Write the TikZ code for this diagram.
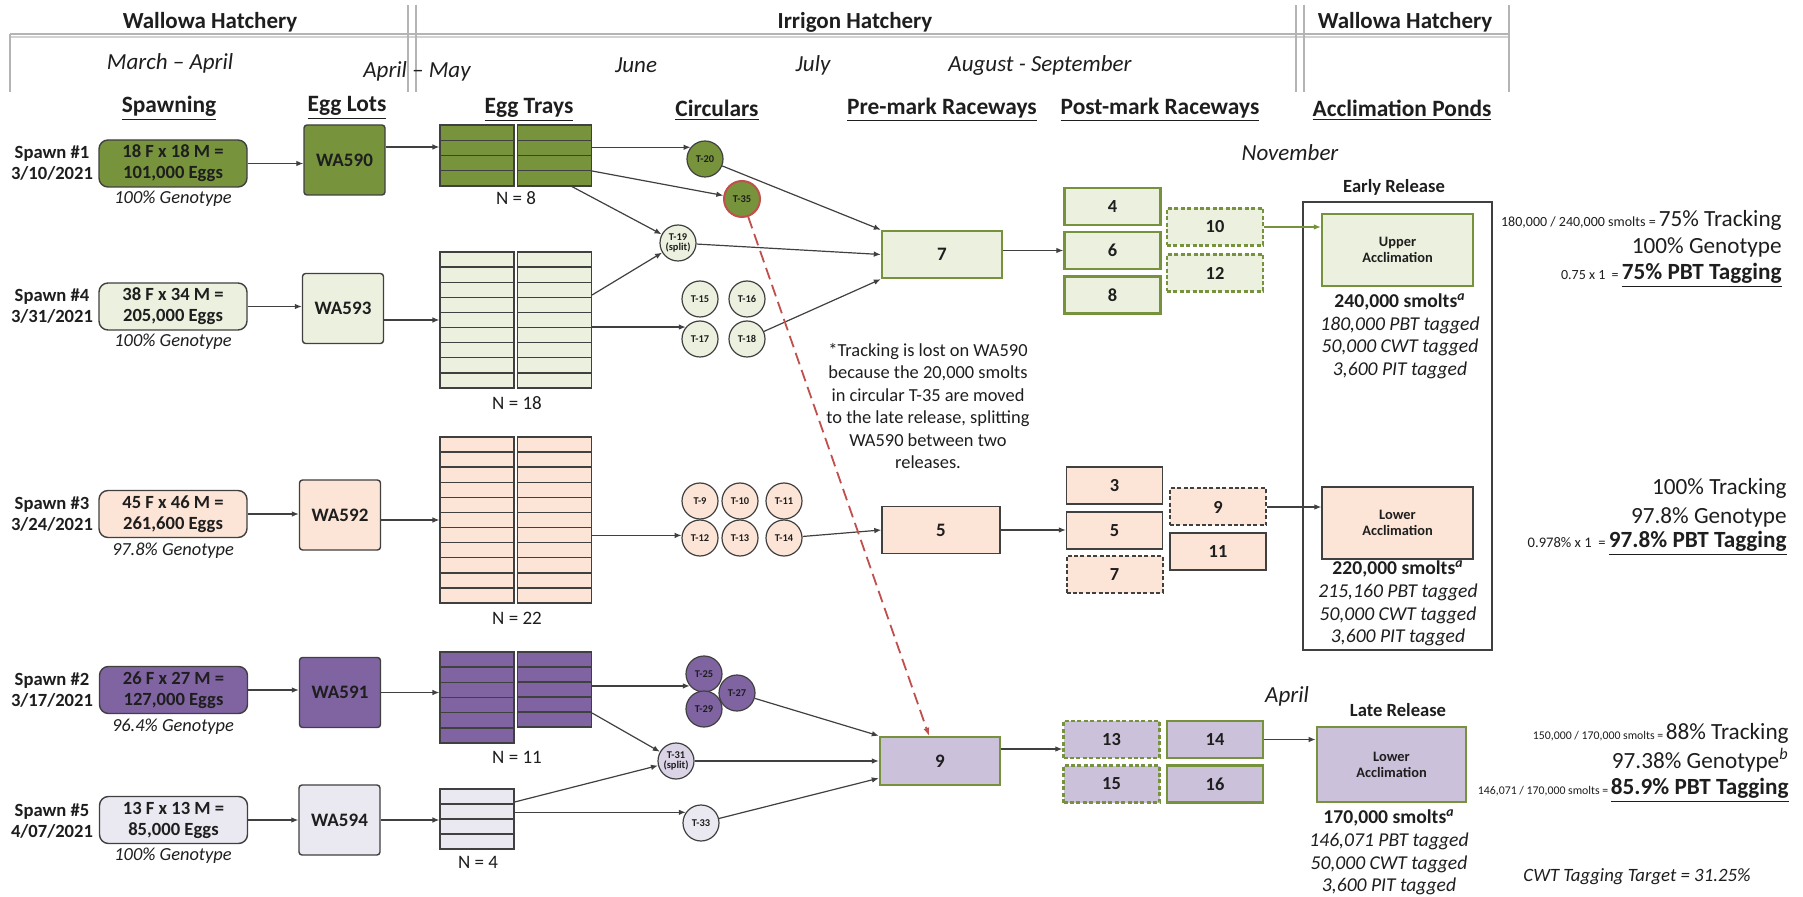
\documentclass[tikz,border=0pt]{standalone}
\usepackage{fontspec}
\setmainfont{Carlito}
\usetikzlibrary{arrows.meta,calc}
\definecolor{dkgreen}{HTML}{77933C}
\definecolor{ltgreen}{HTML}{EBF1DE}
\definecolor{peach}{HTML}{FCE4D6}
\definecolor{purp}{HTML}{8064A2}
\definecolor{lav}{HTML}{CCC1DA}
\definecolor{palelav}{HTML}{EAE8F0}
\definecolor{splitlav}{HTML}{DAD4E6}
\definecolor{olive}{HTML}{76923C}
\definecolor{edge}{HTML}{404040}
\definecolor{redline}{HTML}{C0504D}
\definecolor{hdrline}{HTML}{B4B4B4}
\definecolor{txt}{HTML}{1E1E1E}
\newcommand{\fsz}[2]{\fontsize{#1pt}{#2pt}\selectfont}
\tikzset{
  every node/.style={text=txt},
  arr/.style={draw=edge, line width=0.6pt, -{Latex[length=3.5pt,width=2.8pt]}},
  hdr/.style={font=\fsz{11.5}{13}\bfseries, inner sep=0pt},
  month/.style={font=\fsz{11.5}{13}\itshape, inner sep=0pt},
  colhdr/.style={font=\fsz{11.7}{13}\bfseries, inner sep=0pt},
  slabel/.style={font=\fsz{9.3}{10.5}\bfseries, align=center, inner sep=0pt},
  spawnbox/.style={draw=edge, line width=0.7pt, rounded corners=4.5pt, minimum width=74pt, minimum height=23.5pt, align=center, font=\fsz{9.3}{10.5}\bfseries, inner sep=0pt},
  geno/.style={font=\fsz{9.2}{10.5}\itshape, inner sep=0pt},
  lotbox/.style={draw=edge, line width=0.7pt, rounded corners=1.5pt, minimum width=40.5pt, minimum height=35pt, font=\fsz{9.5}{11}\bfseries, inner sep=0pt},
  traycol/.style n args={3}{draw=edge, line width=0.6pt, fill=#1, minimum width=37pt, minimum height=#2, inner sep=0pt,
    path picture={\foreach \k in {1,...,#3}{\draw[edge, line width=0.7pt] ($(path picture bounding box.north west)!{\k/(#3+1)}!(path picture bounding box.south west)$) -- ($(path picture bounding box.north east)!{\k/(#3+1)}!(path picture bounding box.south east)$);}}},
  nlab/.style={font=\fsz{9.5}{11}, inner sep=0pt},
  circ/.style={circle, draw=edge, line width=0.6pt, minimum size=18pt, inner sep=0pt, font=\fsz{5.2}{5.4}\bfseries, align=center},
  pre/.style={line width=1.2pt, minimum width=60pt, minimum height=23.5pt, font=\fsz{9.5}{11}\bfseries, inner sep=0pt},
  post/.style={minimum width=48pt, minimum height=18.5pt, font=\fsz{9.2}{11}\bfseries, inner sep=0pt},
  greenpost/.style={post, draw=olive, line width=1.2pt, fill=ltgreen},
  peachpost/.style={post, draw=edge, line width=0.7pt, fill=peach},
  lavpost/.style={post, draw=olive, line width=1.2pt, fill=lav},
  dashpost/.style={dash pattern=on 2pt off 1.2pt},
  accl/.style={minimum width=75.5pt, minimum height=36pt, align=center, font=\fsz{7.2}{8}\bfseries, inner sep=0pt},
  smolt/.style={font=\fsz{9.8}{11.3}, align=center, inner sep=0pt},
  rt/.style={anchor=east, inner sep=0pt, font=\fsz{11.6}{13}},
  note/.style={font=\fsz{9.2}{11.2}, align=center, inner sep=0pt}
}
\begin{document}
\begin{tikzpicture}[x=0.5pt, y=-0.5pt]
\fill[white] (0,0) rectangle (1803,897);
\useasboundingbox (0,0) rectangle (1803,897);

% header frame
\draw[hdrline, line width=0.9pt] (10,34) -- (1509,34);
\draw[hdrline!60, line width=0.9pt] (10,37) -- (1509,37);
\foreach \x in {408,416,1296,1304} \draw[hdrline, line width=0.9pt] (\x,5) -- (\x,92);
\draw[hdrline, line width=0.9pt] (10,34) -- (10,92);
\draw[hdrline, line width=0.9pt] (1509,5) -- (1509,92);

\node[hdr] (hW1) at (210,22) {Wallowa Hatchery};
\node[hdr] (hI) at (855,22) {Irrigon Hatchery};
\node[hdr] (hW2) at (1405,22) {Wallowa Hatchery};

\node[month] (m1) at (170,63) {March – April};
\node[month] (m2) at (417,71) {April – May};
\node[month] (m3) at (636,65) {June};
\node[month] (m4) at (813,65) {July};
\node[month] (m5) at (1040,65) {August - September};

% column headers
\node[colhdr] (c1) at (169,108) {\underline{Spawning}};
\node[colhdr] (c2) at (347,108) {\underline{Egg Lots}};
\node[colhdr] (c3) at (529,110) {\underline{Egg Trays}};
\node[colhdr] (c4) at (717,110) {\underline{Circulars}};
\node[colhdr] (c5) at (942,110) {\underline{Pre-mark Raceways}};
\node[colhdr] (c6) at (1160,110) {\underline{Post-mark Raceways}};
\node[colhdr] (c7) at (1402,110) {\underline{Acclimation Ponds}};

% spawning
\node[slabel] (l1) at (52,163) {Spawn \#1\\3/10/2021};
\node[slabel] (l4) at (52,306) {Spawn \#4\\3/31/2021};
\node[slabel] (l3) at (52,514) {Spawn \#3\\3/24/2021};
\node[slabel] (l2) at (52,690) {Spawn \#2\\3/17/2021};
\node[slabel] (l5) at (52,821) {Spawn \#5\\4/07/2021};

\node[spawnbox, fill=dkgreen] (s1) at (173,163.5) {18 F x 18 M =\\101,000 Eggs};
\node[spawnbox, fill=ltgreen] (s4) at (173,306.5) {38 F x 34 M =\\205,000 Eggs};
\node[spawnbox, fill=peach] (s3) at (173,514) {45 F x 46 M =\\261,600 Eggs};
\node[spawnbox, fill=purp] (s2) at (173.5,690) {26 F x 27 M =\\127,000 Eggs};
\node[spawnbox, fill=palelav] (s5) at (173.5,820) {13 F x 13 M =\\85,000 Eggs};

\node[geno] (g1) at (173,199) {100\% Genotype};
\node[geno] (g4) at (173,342) {100\% Genotype};
\node[geno] (g3) at (173,551) {97.8\% Genotype};
\node[geno] (g2) at (173,727) {96.4\% Genotype};
\node[geno] (g5) at (173,856) {100\% Genotype};

% egg lots
\node[lotbox, fill=dkgreen] (wa590) at (344.5,160) {WA590};
\node[lotbox, fill=ltgreen] (wa593) at (343,308.5) {WA593};
\node[lotbox, fill=peach] (wa592) at (340,515) {WA592};
\node[lotbox, fill=purp] (wa591) at (340,692.5) {WA591};
\node[lotbox, fill=palelav] (wa594) at (339.5,820) {WA594};

\draw[arr] (s1.east) -- (s1.east -| wa590.west);
\draw[arr] (s4.east) -- (s4.east -| wa593.west);
\draw[arr] (s3.east) -- (s3.east -| wa592.west);
\draw[arr] (s2.east) -- (s2.east -| wa591.west);
\draw[arr] (s5.east) -- (s5.east -| wa594.west);

% egg trays
\node[traycol={dkgreen}{30.5pt}{3}] (t1l) at (477,155.5) {};
\node[traycol={dkgreen}{30.5pt}{3}] (t1r) at (554.5,155.5) {};
\node[traycol={ltgreen}{68pt}{8}] (t2l) at (477,320) {};
\node[traycol={ltgreen}{68pt}{8}] (t2r) at (554.5,320) {};
\node[traycol={peach}{83pt}{10}] (t3l) at (477,520) {};
\node[traycol={peach}{83pt}{10}] (t3r) at (554.5,520) {};
\node[traycol={purp}{45.5pt}{5}] (t4l) at (477,697.5) {};
\node[traycol={purp}{37.5pt}{4}] (t4r) at (554.5,689.5) {};
\node[traycol={palelav}{30pt}{3}] (t5) at (477,819) {};

\node[nlab] (n1) at (516,198) {N = 8};
\node[nlab] (n2) at (517,403) {N = 18};
\node[nlab] (n3) at (517,618) {N = 22};
\node[nlab] (n4) at (517,757) {N = 11};
\node[nlab] (n5) at (478,862) {N = 4};

\coordinate (e1) at ($(wa590.east)+(0,-13)$);
\draw[arr] (e1) -- (e1 -| t1l.west);
\draw[arr] (wa593.east |- t2l.west) -- (t2l.west);
\draw[arr] (wa592.east |- t3l.west) -- (t3l.west);
\draw[arr] (wa591.east) -- (wa591.east -| t4l.west);
\draw[arr] (wa594.east) -- (wa594.east -| t5.west);

% circulars
\node[circ, fill=dkgreen] (T20) at (705,159) {T-20};
\node[circ, fill=dkgreen, draw=redline, line width=1pt] (T35) at (742,199) {T-35};
\node[circ, fill=ltgreen] (T19) at (678,243) {T-19\\(split)};
\node[circ, fill=ltgreen] (T15) at (700,299) {T-15};
\node[circ, fill=ltgreen] (T16) at (747,299) {T-16};
\node[circ, fill=ltgreen] (T17) at (700,339) {T-17};
\node[circ, fill=ltgreen] (T18) at (747,339) {T-18};

\node[circ, fill=peach] (T9) at (700,501) {T-9};
\node[circ, fill=peach] (T10) at (740,501) {T-10};
\node[circ, fill=peach] (T11) at (784,501) {T-11};
\node[circ, fill=peach] (T12) at (700,538) {T-12};
\node[circ, fill=peach] (T13) at (740,538) {T-13};
\node[circ, fill=peach] (T14) at (784,538) {T-14};

\node[circ, fill=purp] (T25) at (704,674) {T-25};
\node[circ, fill=purp] (T27) at (737,693) {T-27};
\node[circ, fill=purp] (T29) at (704,709) {T-29};
\node[circ, fill=splitlav] (T31) at (676,761) {T-31\\(split)};
\node[circ, fill=palelav] (T33) at (701,823) {T-33};

% tray -> circular
\draw[arr] (t1r.east |- T20.141) -- (T20.141);
\draw[arr] ($(t1r.east)+(0,15.5)$) -- (T35);
\draw[arr] ($(t1r.south)+(17.5,0)$) -- (T19);
\draw[arr] ($(t2r.east)+(0,-25)$) -- (T19);
\draw[arr] (t2r.east |- T17.140) -- (T17.140);
\draw[arr] (t3r.east |- T12.172) -- (T12.172);
\draw[arr] (t4r.east |- T25.220) -- (T25.220);
\draw[arr] ($(t4r.east)+(0,23.5)$) -- (T31);
\draw[arr] ($(t5.east)+(0,-17)$) -- (T31);
\draw[arr] (t5.east |- T33.145) -- (T33.145);

% pre-mark raceways
\node[pre, draw=olive, fill=ltgreen] (p7) at (942,254.5) {7};
\node[pre, draw=edge, line width=0.7pt, fill=peach, minimum width=59pt] (p5) at (941,530) {5};
\node[pre, draw=olive, fill=lav, minimum height=24pt] (p9) at (940,761) {9};

\draw[arr] (T20) -- (p7.north west);
\draw[arr] (T19) -- (p7.west);
\draw[arr] (T18) -- (p7.south west);
\draw[arr] (T14) -- (p5.west);
\draw[arr] (T27) -- (p9.north west);
\draw[arr] (T31) -- (p9.west);
\draw[arr] (T33) -- ($(p9.south west)+(0,-8)$);

% note
\node[note] (note) at (928,406) {*Tracking is lost on WA590\\because the 20,000 smolts\\in circular T-35 are moved\\to the late release, splitting\\WA590 between two\\releases.};

% post-mark raceways
\node[greenpost] (q4) at (1112.5,206.5) {4};
\node[greenpost] (q6) at (1112.5,250.5) {6};
\node[greenpost] (q8) at (1112.5,295) {8};
\node[greenpost, dashpost] (q10) at (1215,227) {10};
\node[greenpost, dashpost] (q12) at (1215,273) {12};

\node[peachpost] (q3) at (1114.5,485.5) {3};
\node[peachpost] (q5) at (1114.5,530.5) {5};
\node[peachpost, dashpost, line width=1pt] (q7) at (1114.5,574.5) {7};
\node[peachpost, dashpost, line width=1pt] (q9) at (1218,507) {9};
\node[peachpost] (q11) at (1218,551.5) {11};

\node[lavpost, dashpost] (q13) at (1111.5,739.5) {13};
\node[lavpost] (q14) at (1215,739.5) {14};
\node[lavpost, dashpost] (q15) at (1111.5,784) {15};
\node[lavpost] (q16) at (1215,784) {16};

\draw[arr] (q6.west -| p7.east) -- (q6.west);
\draw[arr] (p5.east) -- (p5.east -| q5.west);
\coordinate (c9) at ($(p9.east)+(0,-12)$);
\draw[arr] (c9) -- (c9 -| q13.west);

% red dashed transfer
\draw[redline, line width=0.9pt, dash pattern=on 6pt off 3pt, -{Latex[length=4pt,width=3.2pt]}] (T35) -- ($(p9.north)+(-11,0)$);

% timing labels
\node[month] (nov) at (1290,153) {November};
\node[month] (apr) at (1287,696) {April};

% acclimation
\node[draw=edge, line width=0.6pt, minimum width=94.5pt, minimum height=224pt, inner sep=0pt] (early) at (1397.5,426) {};
\node[font=\fsz{9.3}{11}\bfseries, inner sep=0pt] (erl) at (1394,187) {Early Release};
\node[font=\fsz{9.3}{11}\bfseries, inner sep=0pt] (lrl) at (1398,710) {Late Release};

\node[accl, draw=olive, line width=1.2pt, fill=ltgreen] (ua) at (1397.5,250) {Upper\\Acclimation};
\node[accl, draw=edge, line width=0.7pt, fill=peach] (la1) at (1397.5,523) {Lower\\Acclimation};
\node[accl, draw=olive, line width=1.4pt, fill=lav, minimum width=74.5pt, minimum height=37.5pt] (la2) at (1391.5,764.5) {Lower\\Acclimation};

\draw[arr, draw=olive] (q10.east) -- (q10.east -| ua.west);
\draw[arr] (q9.east) -- (q9.east -| la1.west);
\draw[arr] (q14.east) -- (q14.east -| la2.west);

\node[smolt] (sm1) at (1400,336) {\textbf{240,000 smolts\textsuperscript{\itshape a}}\\\itshape 180,000 PBT tagged\\\itshape 50,000 CWT tagged\\\itshape 3,600 PIT tagged};
\node[smolt] (sm2) at (1398,603.5) {\textbf{220,000 smolts\textsuperscript{\itshape a}}\\\itshape 215,160 PBT tagged\\\itshape 50,000 CWT tagged\\\itshape 3,600 PIT tagged};
\node[smolt] (sm3) at (1389,852.5) {\textbf{170,000 smolts\textsuperscript{\itshape a}}\\\itshape 146,071 PBT tagged\\\itshape 50,000 CWT tagged\\\itshape 3,600 PIT tagged};

% right-hand summaries
\node[rt] (r1a) at (1782,220) {{\fsz{7}{8}180,000 / 240,000 smolts = }75\% Tracking};
\node[rt] (r1b) at (1782,247) {100\% Genotype};
\node[rt] (r1c) at (1782,275) {{\fsz{7}{8}0.75 x 1 \ = }\textbf{\underline{75\% PBT Tagging}}};

\node[rt] (r2a) at (1787,488) {100\% Tracking};
\node[rt] (r2b) at (1787,517) {97.8\% Genotype};
\node[rt] (r2c) at (1787,543) {{\fsz{7.3}{8}0.978\% x 1 \ = }\textbf{\underline{97.8\% PBT Tagging}}};

\node[rt] (r3a) at (1789,733) {{\fsz{5.9}{7}150,000 / 170,000 smolts = }88\% Tracking};
\node[rt] (r3b) at (1789,760) {97.38\% Genotype\textsuperscript{\itshape b}};
\node[rt] (r3c) at (1789,790) {{\fsz{5.9}{7}146,071 / 170,000 smolts = }\textbf{\underline{85.9\% PBT Tagging}}};

\node[font=\fsz{9.4}{11}\itshape, inner sep=0pt] (cwt) at (1637,877) {CWT Tagging Target = 31.25\%};
\end{tikzpicture}
\end{document}
